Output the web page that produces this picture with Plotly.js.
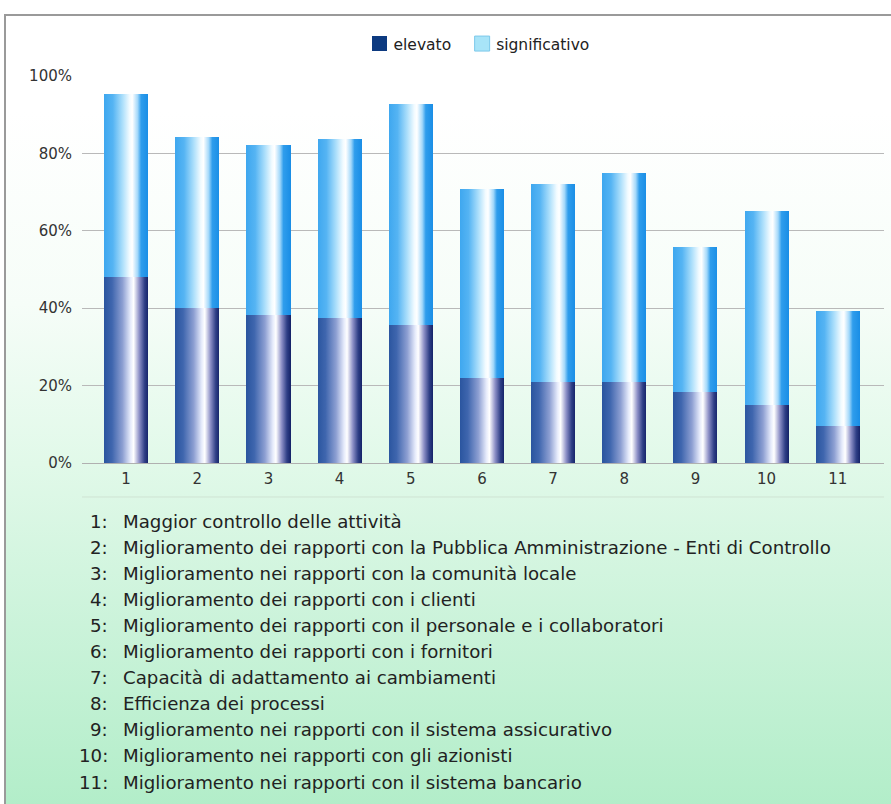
<!DOCTYPE html>
<html>
<head>
<meta charset="utf-8">
<script src="https://cdn.plot.ly/plotly-3.0.1.min.js"></script>
<style>
  html, body { margin:0; padding:0; width:891px; height:804px; overflow:hidden; background:#ffffff; }
  #frame { position:absolute; left:4px; top:14px; width:900px; height:800px;
    border-left:2px solid #9a9a9a; border-top:2px solid #9a9a9a;
    background:linear-gradient(to bottom, #ffffff 0%, #ffffff 12%, #f6fdf8 36%, #e1f9e9 56%, #cbf3da 76%, #b1edc8 100%); }
  #chart { position:absolute; left:0; top:0; width:891px; height:804px; }
</style>
</head>
<body>
<div id="frame"></div>
<div id="chart"></div>
<script>
const categories = ["1","2","3","4","5","6","7","8","9","10","11"];
const elevato = [48.1, 40.0, 38.2, 37.5, 35.7, 22.0, 20.9, 20.9, 18.3, 15.0, 9.6];
const significativo = [47.2, 44.2, 44.0, 46.2, 57.1, 48.8, 51.2, 54.0, 37.5, 50.1, 29.7];
const seriesNames = ["elevato", "significativo"];
const yTickVals = [0, 20, 40, 60, 80, 100];
const yTickText = ["0%", "20%", "40%", "60%", "80%", "100%"];
const descriptions = [
  "Maggior controllo delle attività",
  "Miglioramento dei rapporti con la Pubblica Amministrazione - Enti di Controllo",
  "Miglioramento nei rapporti con la comunità locale",
  "Miglioramento dei rapporti con i clienti",
  "Miglioramento dei rapporti con il personale e i collaboratori",
  "Miglioramento dei rapporti con i fornitori",
  "Capacità di adattamento ai cambiamenti",
  "Efficienza dei processi",
  "Miglioramento nei rapporti con il sistema assicurativo",
  "Miglioramento nei rapporti con gli azionisti",
  "Miglioramento nei rapporti con il sistema bancario"
];

const FONT = "'DejaVu Sans', 'Open Sans', sans-serif";
const plotLeft = 82, plotRight = 884, plotTop = 76, plotBottom = 463;
const pw = plotRight - plotLeft, ph = plotBottom - plotTop;
function px2x(px){ return (px - plotLeft) / pw; }
function px2y(py){ return (plotBottom - py) / ph; }

const traces = [
  { type:'bar', name: seriesNames[0], x: categories, y: elevato,
    marker:{ color:'#0d3a80', line:{ width:0 } }, hoverinfo:'y+name' },
  { type:'bar', name: seriesNames[1], x: categories, y: significativo,
    marker:{ color:'#a8e4f8', line:{ width:1, color:'#7cc8ea' } }, hoverinfo:'y+name' }
];

const annotations = [];
descriptions.forEach((d, i) => {
  const py = 521 + i * 26.1;
  annotations.push({ xref:'paper', yref:'paper', x: px2x(110), y: px2y(py), xanchor:'right', yanchor:'middle',
    text: categories[i] + ':', showarrow:false, font:{ family:FONT, size:18.2, color:'#222222' } });
  annotations.push({ xref:'paper', yref:'paper', x: px2x(121), y: px2y(py), xanchor:'left', yanchor:'middle',
    text: d, showarrow:false, font:{ family:FONT, size:18.2, color:'#222222' } });
});

const layout = {
  width: 891, height: 804,
  margin: { l: plotLeft, r: 891 - plotRight, t: plotTop, b: 804 - plotBottom, pad: 0 },
  paper_bgcolor: 'rgba(0,0,0,0)', plot_bgcolor: 'rgba(0,0,0,0)',
  barmode: 'stack', bargap: 0.38,
  showlegend: true,
  legend: { orientation:'h', x: px2x(474), xanchor:'center', y: px2y(44), yanchor:'middle',
    font:{ family:FONT, size:15.5, color:'#222222' }, bgcolor:'rgba(0,0,0,0)', itemwidth:30, traceorder:'normal' },
  xaxis: { type:'category', range:[-0.62, 10.65], showgrid:false, zeroline:false, showline:false,
    ticks:'', ticklabelstandoff: 5, tickfont:{ family:FONT, size:15, color:'#333333' }, fixedrange:true },
  yaxis: { range:[0, 100], tickvals: yTickVals, ticktext: yTickText, showgrid:true, gridcolor:'#b9b9b9', gridwidth:1,
    zeroline:true, zerolinecolor:'#b0b0b0', zerolinewidth:1, showline:false, ticks:'', ticklabelstandoff: 9,
    tickfont:{ family:FONT, size:15, color:'#333333' }, fixedrange:true },
  shapes: [
    { type:'line', xref:'paper', yref:'paper', x0:0, x1:1, y0: px2y(497), y1: px2y(497),
      line:{ color:'#cfe3d3', width:1 } }
  ],
  annotations: annotations
};

Plotly.newPlot('chart', traces, layout, { staticPlot:true, displayModeBar:false }).then(gd => {
  const svg = gd.querySelector('.main-svg');
  const ns = 'http://www.w3.org/2000/svg';
  let defs = svg.querySelector('defs');
  if (!defs) { defs = document.createElementNS(ns, 'defs'); svg.insertBefore(defs, svg.firstChild); }
  function addGrad(id, stops){
    const g = document.createElementNS(ns, 'linearGradient');
    g.setAttribute('id', id); g.setAttribute('x1','0'); g.setAttribute('x2','1'); g.setAttribute('y1','0'); g.setAttribute('y2','0');
    stops.forEach(s => { const st = document.createElementNS(ns,'stop'); st.setAttribute('offset', s[0]); st.setAttribute('stop-color', s[1]); g.appendChild(st); });
    defs.appendChild(g);
  }
  addGrad('gradDark', [[0,'#2a559f'],[0.18,'#3f66ae'],[0.42,'#8d9fd2'],[0.6,'#e6ebfb'],[0.67,'#ffffff'],[0.8,'#8c8fc6'],[0.92,'#2f3f86'],[1,'#16246a']]);
  addGrad('gradLight', [[0,'#3ea7ef'],[0.2,'#55b4f3'],[0.42,'#acdffb'],[0.58,'#f2fbff'],[0.64,'#ffffff'],[0.76,'#a3d8fa'],[0.84,'#2f9dec'],[1,'#1a8ee6']]);
  const barTraces = gd.querySelectorAll('.barlayer .trace');
  barTraces.forEach((t, i) => {
    t.querySelectorAll('path').forEach(p => {
      p.style.fill = i === 0 ? 'url(#gradDark)' : 'url(#gradLight)';
      p.style.stroke = 'none';
    });
  });
  gd.querySelectorAll('.legend .legendpoints path').forEach(p => {
    p.setAttribute('d', 'M-1.5,-7.5H13.5V7.5H-1.5Z');
  });
});
</script>
</body>
</html>
